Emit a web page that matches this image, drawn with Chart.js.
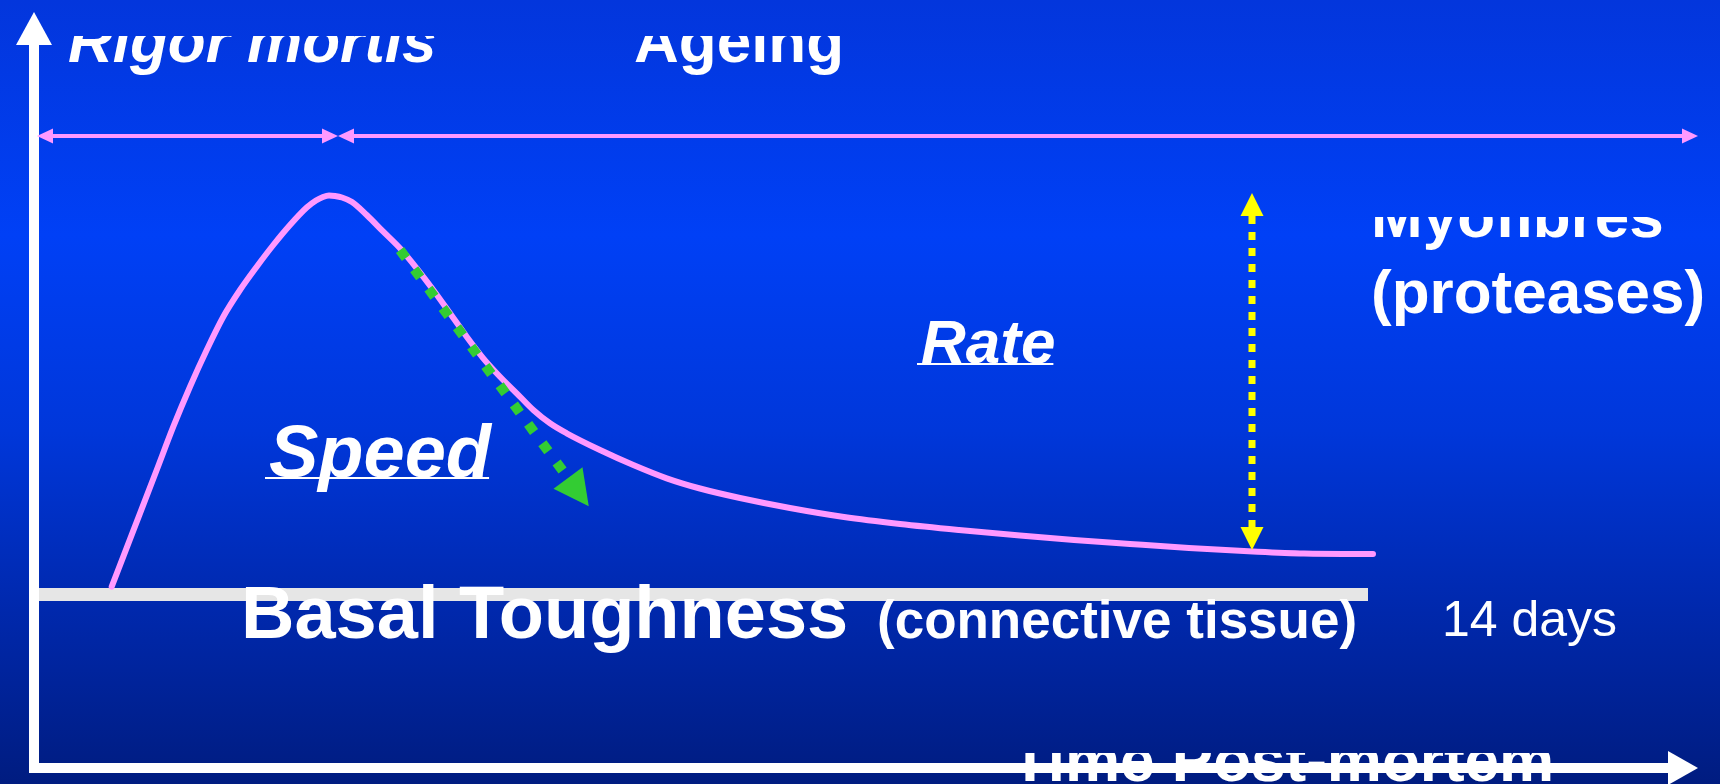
<!DOCTYPE html>
<html>
<head>
<meta charset="utf-8">
<script src="https://cdn.jsdelivr.net/npm/chart.js@4"></script>
<style>
  html, body { margin: 0; padding: 0; background: #0030c8; }
  canvas { display: block; }
</style>
</head>
<body>
<canvas id="c" width="1720" height="784"></canvas>
<script>
// ---------- data (time & toughness in arbitrary schematic units) ----------
const curveTime = [7.57, 8.73, 10.4, 12.07, 13.73, 15.4, 17.07, 18.73, 20.4, 22.07,
  23.73, 25.4, 27.07, 28.0, 28.7, 29.3, 29.9, 30.6, 31.6, 33.07,
  34.73, 36.4, 38.07, 39.73, 41.4, 43.07, 44.73, 46.4, 48.07, 49.73,
  51.4, 53.07, 56.4, 59.73, 63.07, 66.4, 70.4, 75.4, 80.8, 86.4,
  92.3, 98.4, 103.8, 109.4, 115.3, 121.7, 126.8, 133.7];
const curveToughness = [18.03, 21.03, 25.37, 29.7, 34.03, 38.03, 41.7, 45.03, 47.7, 50.03,
  52.2, 54.2, 55.95, 56.65, 57.0, 57.15, 57.1, 56.95, 56.5, 55.2,
  53.53, 51.87, 49.87, 47.7, 45.37, 43.03, 40.87, 39.03, 37.37, 35.7,
  34.37, 33.37, 31.7, 30.2, 28.87, 27.85, 26.9, 25.9, 25.0, 24.3,
  23.7, 23.15, 22.7, 22.3, 21.9, 21.55, 21.35, 21.3];
const basalTime = [-0.3, 133.2];
const basalToughness = 17.25;
const phaseLevel = 63.1;
const rigorPhase = [1.7, 28.6];
const ageingPhase = [31.8, 164.6];
const speedArrowTime = [36.4, 53.2];
const speedArrowToughness = [51.7, 28.9];
const rateArrowTime = 121.6;
const rateArrowToughness = [55.1, 24.0];
const yAxisRange = [-0.6, 72.2];
const xAxisRange = [-0.3, 163.2];
const phaseLabels = ['Rigor mortis', 'Ageing'];
const mechanismLabels = ['Myofibres', '(proteases)'];
const effectLabels = ['Rate', 'Speed'];
const basalLabels = ['Basal Toughness', '(connective tissue)'];
const endLabel = '14 days';
const xAxisTitle = 'Time Post-mortem';

// ---------- build datasets ----------
const FONT = "'Liberation Sans', Arial, sans-serif";
const pts = (xs, ys) => xs.map((x, i) => ({ x, y: Array.isArray(ys) ? ys[i] : ys }));

const datasets = [
  { label: 'x axis', data: pts(xAxisRange, -0.1), borderColor: '#ffffff', borderWidth: 10, order: 1,
    arrows: [{ at: 'end', len: 30, width: 34 }] },
  { label: 'y axis', data: [{ x: -0.2, y: yAxisRange[0] }, { x: -0.2, y: yAxisRange[1] }], borderColor: '#ffffff', borderWidth: 10, order: 2,
    arrows: [{ at: 'end', len: 33, width: 36 }] },
  { label: 'rate', data: pts([rateArrowTime, rateArrowTime], rateArrowToughness), borderColor: '#ffff00', borderWidth: 7,
    borderDash: [8, 8], order: 3, arrows: [{ at: 'start', len: 23, width: 23 }, { at: 'end', len: 23, width: 23 }] },
  { label: 'speed', data: pts(speedArrowTime, speedArrowToughness), borderColor: '#33cc33', borderWidth: 10,
    borderDash: [10, 14], order: 4, arrows: [{ at: 'end', len: 35, width: 36 }] },
  { label: 'rigor', data: pts(rigorPhase, phaseLevel), borderColor: '#ff99ff', borderWidth: 4, order: 5,
    arrows: [{ at: 'start', len: 16, width: 15 }, { at: 'end', len: 16, width: 15 }] },
  { label: 'ageing', data: pts(ageingPhase, phaseLevel), borderColor: '#ff99ff', borderWidth: 4, order: 5,
    arrows: [{ at: 'start', len: 16, width: 15 }, { at: 'end', len: 16, width: 15 }] },
  { label: 'toughness', data: pts(curveTime, curveToughness), borderColor: '#ff99ff', borderWidth: 6, order: 6,
    cubicInterpolationMode: 'monotone', borderCapStyle: 'round', borderJoinStyle: 'round' },
  { label: 'basal', data: pts(basalTime, basalToughness), borderColor: '#e6e6e6', borderWidth: 13, order: 7 },
];
datasets.forEach(d => { d.showLine = true; d.pointRadius = 0; d.pointHoverRadius = 0; d.fill = false; if (!d.borderCapStyle) d.borderCapStyle = 'butt'; });

// ---------- plugins ----------
const background = {
  id: 'background',
  beforeDraw(chart) {
    const { ctx, width, height } = chart;
    const g = ctx.createLinearGradient(0, 0, 0, height);
    g.addColorStop(0, '#0336dc');
    g.addColorStop(0.3, '#0040f6');
    g.addColorStop(0.55, '#0037da');
    g.addColorStop(0.78, '#0028ac');
    g.addColorStop(1, '#001c80');
    ctx.save();
    ctx.fillStyle = g;
    ctx.fillRect(0, 0, width, height);
    ctx.restore();
  }
};

const arrowHeads = {
  id: 'arrowHeads',
  afterDatasetsDraw(chart) {
    const ctx = chart.ctx;
    chart.data.datasets.forEach((ds, i) => {
      if (!ds.arrows) return;
      const pts = chart.getDatasetMeta(i).data;
      ds.arrows.forEach(a => {
        const p = a.at === 'end' ? pts[pts.length - 1] : pts[0];
        const q = a.at === 'end' ? pts[pts.length - 2] : pts[1];
        let dx = p.x - q.x, dy = p.y - q.y;
        const L = Math.hypot(dx, dy) || 1;
        dx /= L; dy /= L;
        const tx = p.x + dx * a.len, ty = p.y + dy * a.len;
        const hw = a.width / 2;
        ctx.save();
        ctx.fillStyle = ds.borderColor;
        ctx.beginPath();
        ctx.moveTo(tx, ty);
        ctx.lineTo(p.x - dy * hw, p.y + dx * hw);
        ctx.lineTo(p.x + dy * hw, p.y - dx * hw);
        ctx.closePath();
        ctx.fill();
        ctx.restore();
      });
    });
  }
};

const textLayout = [
  { text: phaseLabels[0], x: 3.2, y: 70.5, font: 'italic bold 62px', clipTop: 73.1 },
  { text: phaseLabels[1], x: 59.8, y: 70.5, font: 'bold 62px', clipTop: 73.1 },
  { text: mechanismLabels[0], x: 133.5, y: 53.0, font: 'bold 62px', clipTop: 55.0 },
  { text: mechanismLabels[1], x: 133.5, y: 45.4, font: 'bold 62px' },
  { text: effectLabels[0], x: 88.5, y: 40.4, font: 'italic bold 62px', underline: true },
  { text: effectLabels[1], x: 23.3, y: 29.0, font: 'italic bold 74px', underline: true },
  { text: basalLabels[0], x: 20.5, y: 12.9, font: 'bold 74px' },
  { text: basalLabels[1], x: 84.1, y: 12.9, font: 'bold 53px' },
  { text: endLabel, x: 140.6, y: 13.1, font: '50px' },
  { text: xAxisTitle, x: 97.5, y: -1.4, font: 'bold 62px', clipTop: 1.4 },
];

const texts = {
  id: 'texts',
  afterDraw(chart) {
    const { ctx, width, height } = chart;
    const sx = chart.scales.x, sy = chart.scales.y;
    textLayout.forEach(t => {
      const px = sx.getPixelForValue(t.x), py = sy.getPixelForValue(t.y);
      ctx.save();
      if (t.clipTop !== undefined) {
        const cy = sy.getPixelForValue(t.clipTop);
        ctx.beginPath();
        ctx.rect(0, cy, width, height - cy);
        ctx.clip();
      }
      ctx.font = t.font + ' ' + FONT;
      ctx.fillStyle = '#ffffff';
      ctx.textBaseline = 'alphabetic';
      ctx.textAlign = 'left';
      ctx.fillText(t.text, px, py);
      if (t.underline) {
        const w = ctx.measureText(t.text).width;
        ctx.fillRect(px - 4, py, w + 2, 2);
      }
      ctx.restore();
    });
  }
};

new Chart(document.getElementById('c'), {
  type: 'scatter',
  data: { datasets },
  options: {
    responsive: false,
    devicePixelRatio: 1,
    animation: false,
    layout: { padding: 0 },
    scales: {
      x: { type: 'linear', display: false, min: -3.6, max: 168.4 },
      y: { type: 'linear', display: false, min: -1.7, max: 76.7 }
    },
    plugins: { legend: { display: false }, tooltip: { enabled: false } },
    events: []
  },
  plugins: [background, arrowHeads, texts]
});
</script>
</body>
</html>
